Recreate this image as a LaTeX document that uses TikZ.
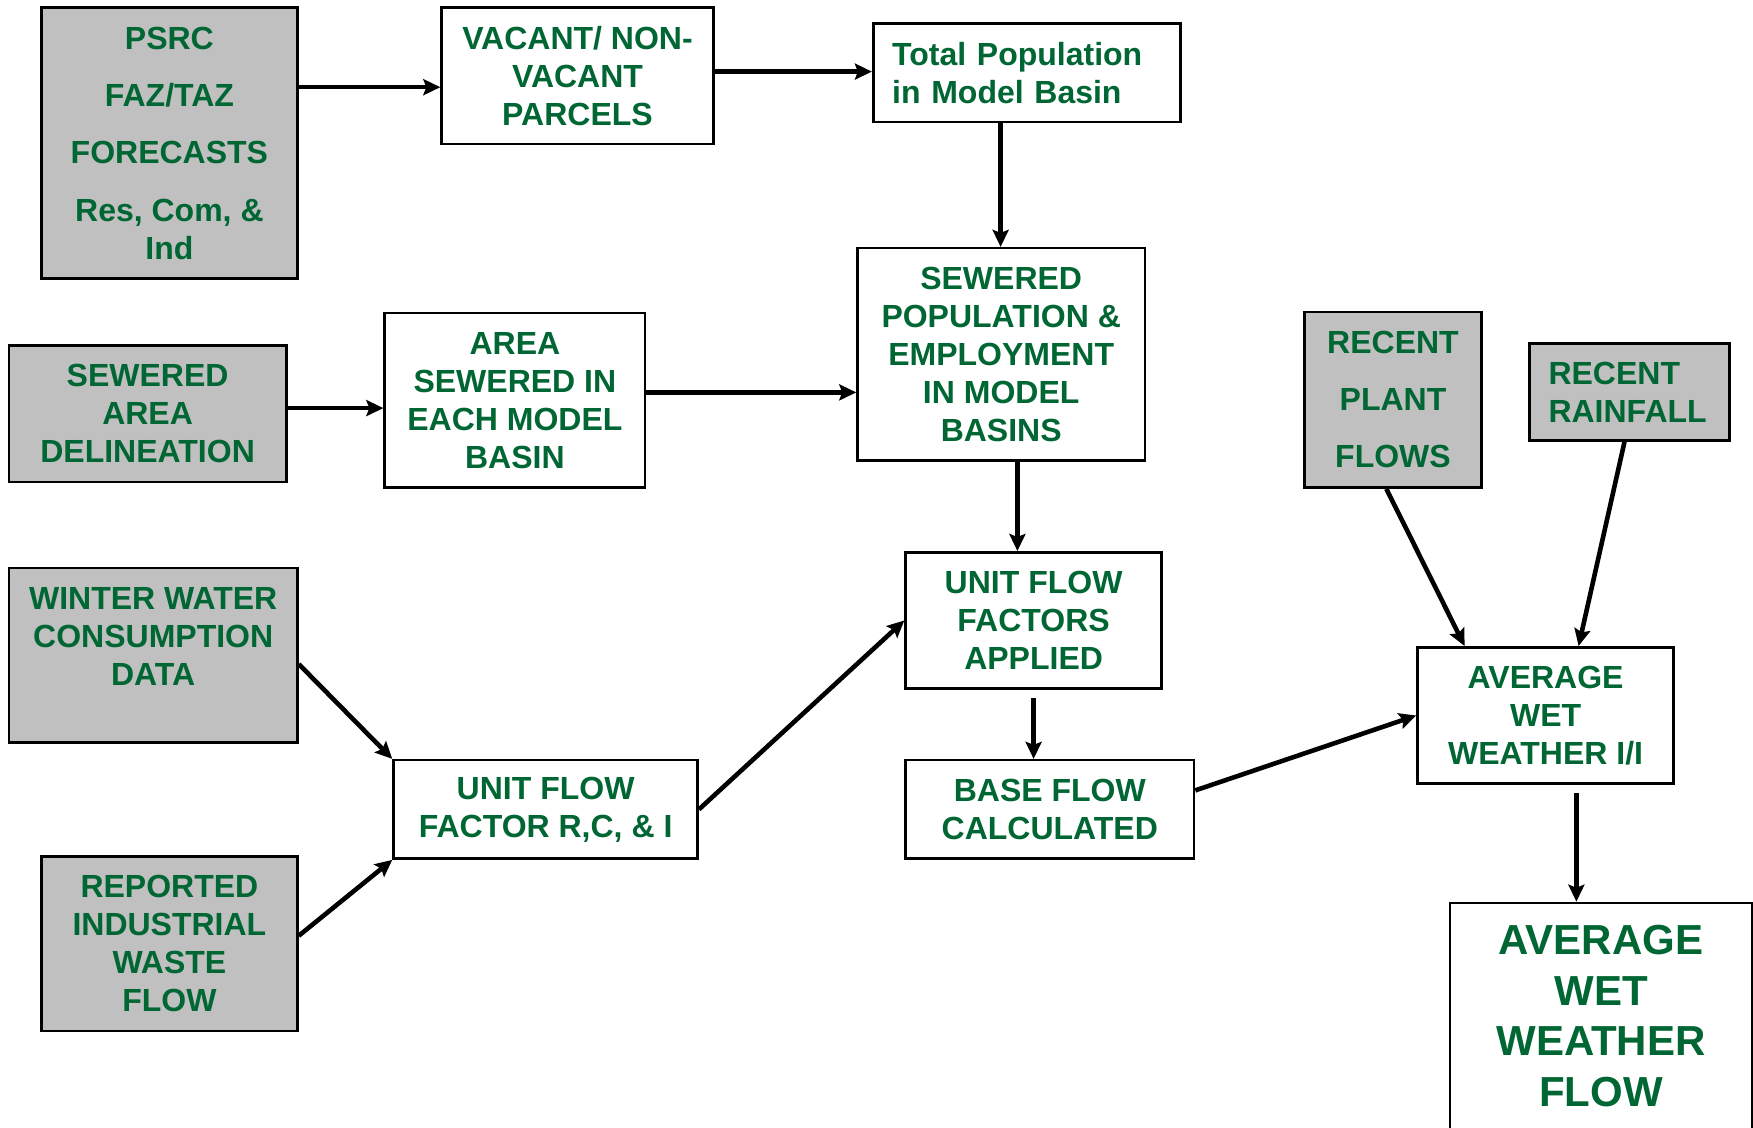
\documentclass[tikz,border=0pt]{standalone}
\usepackage{fontspec}
\setmainfont{Liberation Sans}
\usetikzlibrary{arrows.meta}
\definecolor{tgreen}{RGB}{0,102,51}
\definecolor{boxgray}{RGB}{192,192,192}
\begin{document}
\begin{tikzpicture}[x=0.5pt,y=-0.5pt,
 box/.style={draw=black, line width=1.3pt, fill=white, text=tgreen, font=\bfseries\fontsize{16}{19}\selectfont, align=center, inner sep=0pt},
 gbox/.style={box, fill=boxgray},
 arr/.style={line width=2.3pt, -{Stealth[length=8.5pt,width=8pt,inset=1.5pt]}},
]
\useasboundingbox (0,0) rectangle (1753,1128);
\clip (0,0) rectangle (1753,1128);
\fill[white] (0,0) rectangle (1753,1128);

\node[gbox, minimum width=128pt, minimum height=135.3pt] (psrc) at (169.4,143.1) {PSRC\\[9.7pt]FAZ/TAZ\\[9.7pt]FORECASTS\\[9.7pt]Res, Com, \&\\Ind};
\node[box, minimum width=135.85pt, minimum height=68.2pt] (vacant) at (577.5,76) {VACANT/ NON-\\VACANT\\PARCELS};
\node[box, align=left, text width=134.7pt, inner xsep=9.5pt, minimum height=49.2pt] (totpop) at (1026.9,72.7) {Total Population\\in Model Basin};
\node[gbox, minimum width=138.65pt, minimum height=68.2pt] (sewarea) at (147.6,413.7) {SEWERED\\AREA\\DELINEATION};
\node[box, minimum width=130.25pt, minimum height=87.2pt] (areasew) at (514.9,400.2) {AREA\\SEWERED IN\\EACH MODEL\\BASIN};
\node[box, minimum width=143.65pt, minimum height=106.2pt] (sewpop) at (1001.2,354.4) {SEWERED\\POPULATION \&\\EMPLOYMENT\\IN MODEL\\BASINS};
\node[gbox, minimum width=88.35pt, minimum height=87.75pt] (plant) at (1393,399.7) {RECENT\\[9.5pt]PLANT\\[9.5pt]FLOWS};
\node[gbox, align=left, text width=81pt, inner xsep=9.5pt, minimum height=48.65pt] (rain) at (1629.5,391.9) {RECENT\\RAINFALL};
\node[gbox, minimum width=144.25pt, minimum height=87.25pt] (winter) at (153.2,655.1) {WINTER WATER\\CONSUMPTION\\DATA\\~};
\node[box, minimum width=128pt, minimum height=68.2pt] (ufa) at (1033.6,620.5) {UNIT FLOW\\FACTORS\\APPLIED};
\node[box, minimum width=152.05pt, minimum height=49.2pt] (uff) at (545.6,809.4) {UNIT FLOW\\FACTOR R,C, \& I};
\node[box, minimum width=144.2pt, minimum height=49.2pt] (base) at (1049.8,809.4) {BASE FLOW\\CALCULATED};
\node[box, minimum width=128pt, minimum height=68.2pt] (avg) at (1545.6,715.5) {AVERAGE\\WET\\WEATHER I/I};
\node[gbox, minimum width=128pt, minimum height=87.2pt] (reported) at (169.4,943.6) {REPORTED\\INDUSTRIAL\\WASTE\\FLOW};
\node[box, font=\bfseries\fontsize{21}{25.4}\selectfont, minimum width=151pt, minimum height=113pt] (flow) at (1601,1016) {AVERAGE\\WET\\WEATHER\\FLOW};

\draw[arr] (psrc.east |- 0,87.2) -- (vacant.west |- 0,87.2);
\draw[arr] (vacant.east |- 0,71.6) -- (totpop.west |- 0,71.6);
\draw[arr] (totpop.south -| 1000.6,0) -- (sewpop.north -| 1000.6,0);
\draw[arr] (sewarea.east |- 0,408.1) -- (areasew.west |- 0,408.1);
\draw[arr] (areasew.east |- 0,392.4) -- (sewpop.west |- 0,392.4);
\draw[arr] (sewpop.south -| 1017.4,0) -- (ufa.north -| 1017.4,0);
\draw[arr] (winter.east |- 0,664.1) -- (uff.north west);
\draw[arr] (reported.east |- 0,935.8) -- (uff.south west);
\draw[arr] (uff.east) -- (ufa.west);
\draw[arr, shorten <=4pt] (ufa.south) -- (base.north -| ufa.south);
\draw[arr] (base.east |- 0,790.4) -- (avg.west);
\draw[arr] (plant.south -| 1386.3,0) -- (avg.north -| 1464.6,0);
\draw[arr] (rain.south -| 1624.5,0) -- (avg.north -| 1578.6,0);
\draw[arr, shorten <=4pt] (avg.south -| 1576.4,0) -- (flow.north -| 1576.4,0);
\end{tikzpicture}
\end{document}
